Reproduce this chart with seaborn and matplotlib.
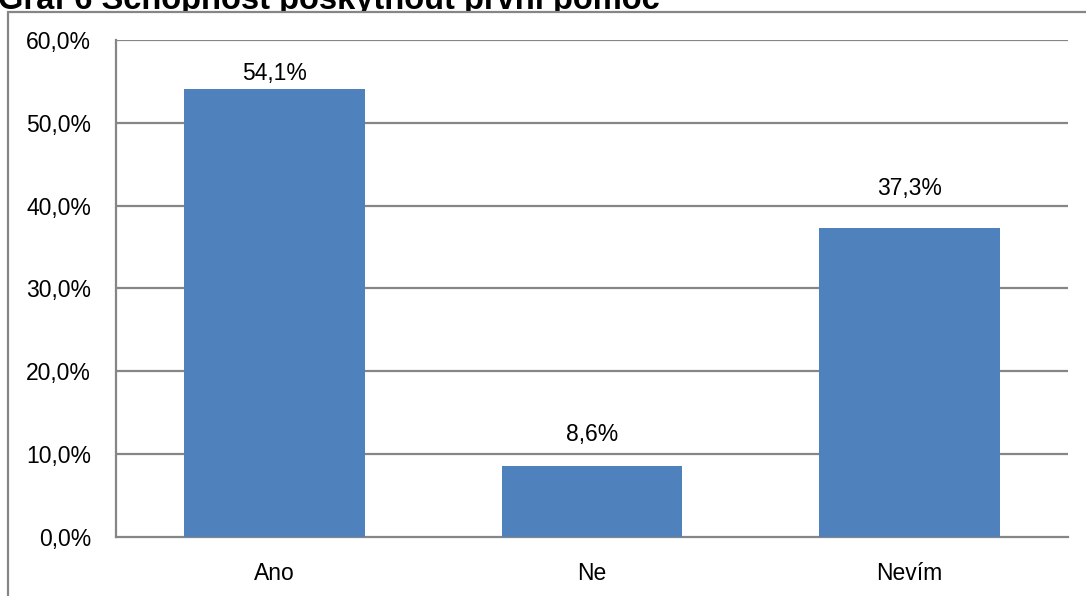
import matplotlib
matplotlib.use("Agg")
import matplotlib.pyplot as plt
from matplotlib.lines import Line2D
from matplotlib.patches import Rectangle
import seaborn as sns
import pandas as pd

categories = ["Ano", "Ne", "Nevím"]
values = [54.1, 8.6, 37.3]
value_labels = ["54,1%", "8,6%", "37,3%"]
y_ticks = [0, 10, 20, 30, 40, 50, 60]
y_tick_labels = ["0,0%", "10,0%", "20,0%", "30,0%", "40,0%", "50,0%", "60,0%"]
title = "Graf 6 Schopnost poskytnout první pomoc"

sns.set_theme(style="white")
plt.rcParams["font.family"] = ["Liberation Sans", "DejaVu Sans"]

W, H = 1086, 596
grid_col = "#868686"
bar_col = "#4F81BD"
fs = 16.5

fig = plt.figure(figsize=(W / 100, H / 100), dpi=100)

# title sits behind the chart box, so only its upper part shows
fig.text(-2 / W, 1 - 9 / H, title, fontsize=23.5, fontweight="bold",
         ha="left", va="baseline", color="black", zorder=1)

# chart box (white fill, grey frame) drawn over the title
fig.add_artist(Rectangle((8 / W, -0.1), 1.2, 1.1 - 12 / H, transform=fig.transFigure,
                         facecolor="white", edgecolor=grid_col, lw=1.6, zorder=2))

ax = fig.add_axes([116 / W, 1 - 537 / H, (1068 - 116) / W, (537 - 40) / H])
ax.set_zorder(5)
ax.patch.set_alpha(0)

df = pd.DataFrame({"cat": categories, "val": values})
sns.barplot(data=df, x="cat", y="val", color=bar_col, saturation=1, width=0.57,
            linewidth=0, ax=ax, zorder=3)

ax.set_ylim(0, 60)
ax.set_xlim(-0.5, 2.5)
ax.set_yticks(y_ticks)
ax.set_yticklabels(y_tick_labels, fontsize=fs, color="black")
ax.tick_params(axis="y", length=0, pad=18)
ax.tick_params(axis="x", length=0, pad=18, labelsize=fs, labelcolor="black")
ax.set_xlabel("")
ax.set_ylabel("")

for y in y_ticks[1:]:
    ax.axhline(y, color=grid_col, lw=1.6, zorder=1)

for s in ["top", "right"]:
    ax.spines[s].set_visible(False)
for s in ["left", "bottom"]:
    ax.spines[s].set_color(grid_col)
    ax.spines[s].set_linewidth(1.6)

# value labels above each bar
label_pads = [9, 25, 33]
for i, (v, lab, p) in enumerate(zip(values, value_labels, label_pads)):
    ax.annotate(lab, xy=(i, v), xytext=(0, p), textcoords="offset pixels",
                ha="center", va="baseline", fontsize=fs, color="black")

fig.savefig("out.png", dpi=100)
